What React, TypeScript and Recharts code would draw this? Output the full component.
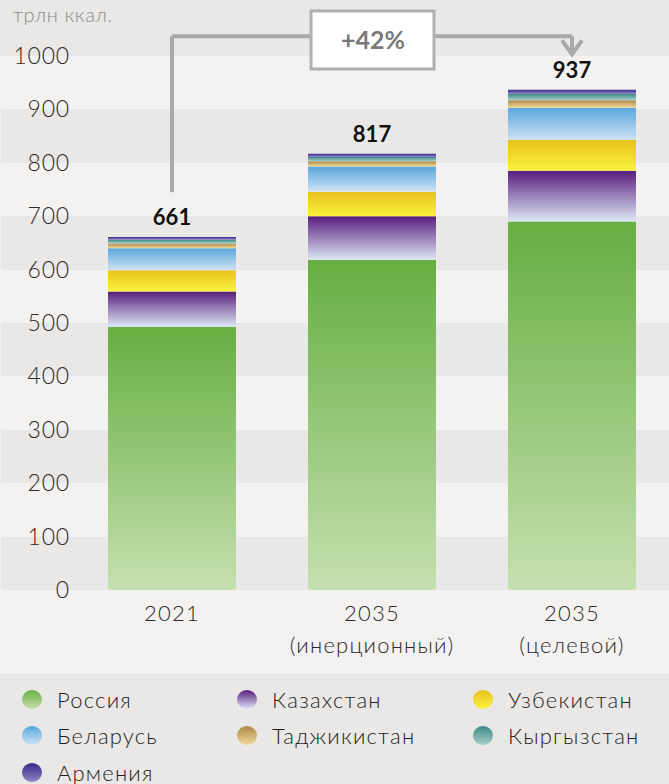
import React from 'react';
import {
    BarChart,
    Bar,
    XAxis,
    YAxis,
    CartesianGrid,
    LabelList,
    ReferenceLine,
    ReferenceDot
} from 'recharts';

const categories = ['2021', '2035\n(инерционный)', '2035\n(целевой)'];

const russia = [493, 618, 690];
const kazakhstan = [66, 82, 95];
const uzbekistan = [40, 46, 58];
const belarus = [41, 47, 60];
const tajikistan = [9, 10, 14];
const kyrgyzstan = [7, 8, 12];
const armenia = [5, 6, 8];
const totals = [661, 817, 937];

const yTicks = [0, 100, 200, 300, 400, 500, 600, 700, 800, 900, 1000];
const growthLabel = '+42%';

// annotation levels in data units
const ARROW_LEVEL = 1037;
const ARROW_START = 745;
const ARROW_TIP = 1003;
const BOX_LEVEL = 1030;

const FONT = 'Lato, "Noto Sans", sans-serif';
const LIGHT = '#f3f2f0';
const GRAY = '#e9e8e6';
const LINE = '#a9a9a9';

const SERIES = [
    { key: 'russia', name: 'Россия', top: '#66ae42', bottom: '#c6e0b0' },
    { key: 'kazakhstan', name: 'Казахстан', top: '#581c7d', bottom: '#dde8f5' },
    { key: 'uzbekistan', name: 'Узбекистан', top: '#e6c11d', bottom: '#fcf23e' },
    { key: 'belarus', name: 'Беларусь', top: '#58a6dc', bottom: '#d0e3f4' },
    { key: 'tajikistan', name: 'Таджикистан', top: '#b08746', bottom: '#f0db9c' },
    { key: 'kyrgyzstan', name: 'Кыргызстан', top: '#3a8984', bottom: '#a8cfca' },
    { key: 'armenia', name: 'Армения', top: '#38288a', bottom: '#8c86c6' },
];

const values: Record<string, number[]> = { russia, kazakhstan, uzbekistan, belarus, tajikistan, kyrgyzstan, armenia };

const data = categories.map((c, i) => {
    const row: any = { name: c, total: totals[i] };
    SERIES.forEach(s => { row[s.key] = values[s.key][i]; });
    return row;
});

const XTick = ({ x, y, payload }: any) => {
    const lines = String(payload.value).split('\n');
    return (
        <text x={x} y={y} textAnchor="middle" fill="#2a2a2a" fontSize={22} fontWeight={300} fontFamily={FONT} letterSpacing={1.2}>
            {lines.map((l, i) => (
                <tspan key={i} x={x} dy={i === 0 ? 31 : 32}>{l}</tspan>
            ))}
        </text>
    );
};

const YTick = ({ y, payload }: any) => (
    <text x={70} y={y} dy={8} textAnchor="end" fill="#2a2a2a" fontSize={23} fontWeight={300} fontFamily={FONT} letterSpacing={0.8}>
        {payload.value}
    </text>
);

const GrowthBox = ({ cx, cy }: any) => (
    <g>
        <rect x={cx - 61} y={cy - 29} width={123} height={58} fill="#ffffff" stroke="#b0b0b0" strokeWidth={3} />
        <text x={cx + 1} y={cy + 9} textAnchor="middle" fill="#7a7a7a" fontSize={25} fontWeight={700} fontFamily={FONT}>
            {growthLabel}
        </text>
    </g>
);

const ArrowHead = ({ cx, cy }: any) => (
    <polyline
        points={`${cx - 10},${cy - 14} ${cx},${cy} ${cx + 10},${cy - 14}`}
        fill="none"
        stroke={LINE}
        strokeWidth={4}
    />
);

export default function App() {
    return (
        <div style={{ position: 'absolute', left: 0, top: 0, width: 669, height: 784, overflow: 'hidden', background: LIGHT, fontFamily: FONT }}>
            <div style={{ position: 'absolute', left: 0, top: 0, width: 669, height: 56, background: GRAY }} />
            <div style={{ position: 'absolute', left: 13, top: 2, fontSize: 20, color: '#8a8a8a', fontWeight: 300, letterSpacing: 0.6 }}>
                трлн ккал.
            </div>
            <div style={{ position: 'absolute', left: 0, top: 0 }}>
                <BarChart width={672} height={674} data={data} margin={{ top: 56, right: 0, left: 0, bottom: 0 }} barSize={128}>
                    <defs>
                        {SERIES.map(s => (
                            <linearGradient key={s.key} id={`grad-${s.key}`} x1="0" y1="0" x2="0" y2="1">
                                <stop offset="0%" stopColor={s.top} />
                                <stop offset="100%" stopColor={s.bottom} />
                            </linearGradient>
                        ))}
                    </defs>
                    <CartesianGrid vertical={false} stroke="none" horizontalFill={[LIGHT, GRAY]} fillOpacity={1} />
                    <XAxis
                        dataKey="name"
                        height={84}
                        axisLine={false}
                        tickLine={false}
                        tickSize={0}
                        tickMargin={0}
                        interval={0}
                        padding={{ left: 71, right: 0 }}
                        tick={<XTick />}
                    />
                    <YAxis
                        width={1}
                        domain={[0, 1000]}
                        ticks={yTicks}
                        interval={0}
                        axisLine={false}
                        tickLine={false}
                        tick={<YTick />}
                        allowDataOverflow
                    />
                    {SERIES.map((s, i) => (
                        <Bar key={s.key} dataKey={s.key} name={s.name} stackId="a" fill={`url(#grad-${s.key})`} isAnimationActive={false}>
                            {i === SERIES.length - 1 && (
                                <LabelList dataKey="total" position="top" offset={12} fill="#111" fontSize={22} fontWeight={700} fontFamily={FONT} />
                            )}
                        </Bar>
                    ))}
                    <ReferenceLine
                        segment={[{ x: categories[0], y: ARROW_START }, { x: categories[0], y: ARROW_LEVEL }]}
                        stroke={LINE} strokeWidth={4} ifOverflow="visible"
                    />
                    <ReferenceLine
                        segment={[{ x: categories[0], y: ARROW_LEVEL }, { x: categories[2], y: ARROW_LEVEL }]}
                        stroke={LINE} strokeWidth={4} ifOverflow="visible"
                    />
                    <ReferenceLine
                        segment={[{ x: categories[2], y: ARROW_LEVEL }, { x: categories[2], y: ARROW_TIP }]}
                        stroke={LINE} strokeWidth={4} ifOverflow="visible"
                    />
                    <ReferenceDot x={categories[2]} y={ARROW_TIP} ifOverflow="visible" shape={<ArrowHead />} />
                    <ReferenceDot x={categories[1]} y={BOX_LEVEL} ifOverflow="visible" shape={<GrowthBox />} />
                </BarChart>
            </div>
            <div style={{ position: 'absolute', left: 0, top: 674, width: 669, height: 110, background: GRAY }}>
                {SERIES.map((s, i) => {
                    const colLeft = [22, 237, 473][i % 3];
                    const rowTop = [15, 51, 88][Math.floor(i / 3)];
                    return (
                        <div key={s.key} style={{ position: 'absolute', left: colLeft, top: rowTop, display: 'flex', alignItems: 'center', height: 20 }}>
                            <span style={{ width: 20, height: 19, borderRadius: '50%', background: `linear-gradient(${s.top}, ${s.bottom})`, display: 'inline-block' }} />
                            <span style={{ marginLeft: 15, fontSize: 22, fontWeight: 300, color: '#1e1e1e', whiteSpace: 'nowrap', letterSpacing: 1.2 }}>{s.name}</span>
                        </div>
                    );
                })}
            </div>
        </div>
    );
}
